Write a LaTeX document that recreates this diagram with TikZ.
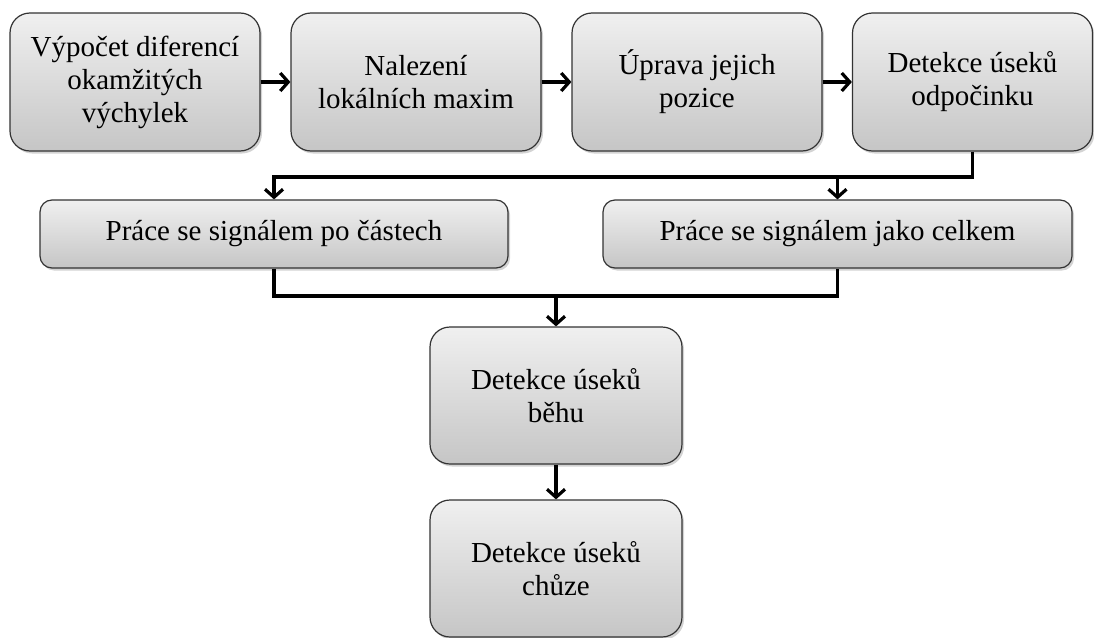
\documentclass[tikz,border=0pt]{standalone}
\usepackage{fontspec}
\setmainfont{Liberation Serif}
\usetikzlibrary{shadows,arrows.meta}

\tikzset{
  krok/.style={draw=black!80, line width=1.2pt, rounded corners=20pt,
    top color=gray!12, bottom color=gray!45,
    drop shadow={shadow xshift=2pt, shadow yshift=-2.5pt, opacity=0.35},
    align=center, inner sep=0pt, minimum width=250pt, minimum height=138pt,
    font=\fontsize{29}{33}\selectfont},
  pas/.style={krok, rounded corners=12pt, minimum height=68pt},
  spoj/.style={line width=3.8pt},
  sip/.style={spoj, -{Straight Barb[length=8pt,width=18pt,line width=3.2pt]}}
}

\begin{document}
\begin{tikzpicture}[x=1pt,y=-1pt]
\useasboundingbox (0,0) rectangle (1094,637);
\node[krok] (b1) at (135,82) {Výpočet diferencí\\okamžitých\\výchylek};
\node[krok] (b2) at (416,82) {Nalezení\\lokálních maxim};
\node[krok] (b3) at (697,82) {Úprava jejich\\pozice};
\node[krok, minimum width=240pt] (b4) at (972.5,82) {Detekce úseků\\odpočinku};
\node[pas, minimum width=468pt] (b5) at (274,234) {Práce se signálem po částech};
\node[pas, minimum width=469pt] (b6) at (837.5,234) {Práce se signálem jako celkem};
\node[krok, minimum width=252pt, minimum height=137pt] (b7) at (556,395.5) {Detekce úseků\\běhu};
\node[krok, minimum width=252pt, minimum height=137pt] (b8) at (556,568.5) {Detekce úseků\\chůze};
\path (b6.north) ++(0,-24) coordinate (j1);
\path (b7.north) ++(0,-32) coordinate (j2);
% hlavni radek
\draw[sip] (b1) -- (b2);
\draw[sip] (b2) -- (b3);
\draw[sip] (b3) -- (b4);
% rozdeleni a spojeni
\draw[sip] (b4.south) -- ++(0,25) -| (b5.north);
\draw[sip] (j1) -- (b6.north);
\draw[spoj] (b5.south) -- ++(0,27) -| (b6.south);
\draw[sip] (j2) -- (b7.north);
\draw[sip] (b7) -- (b8);
\end{tikzpicture}
\end{document}
